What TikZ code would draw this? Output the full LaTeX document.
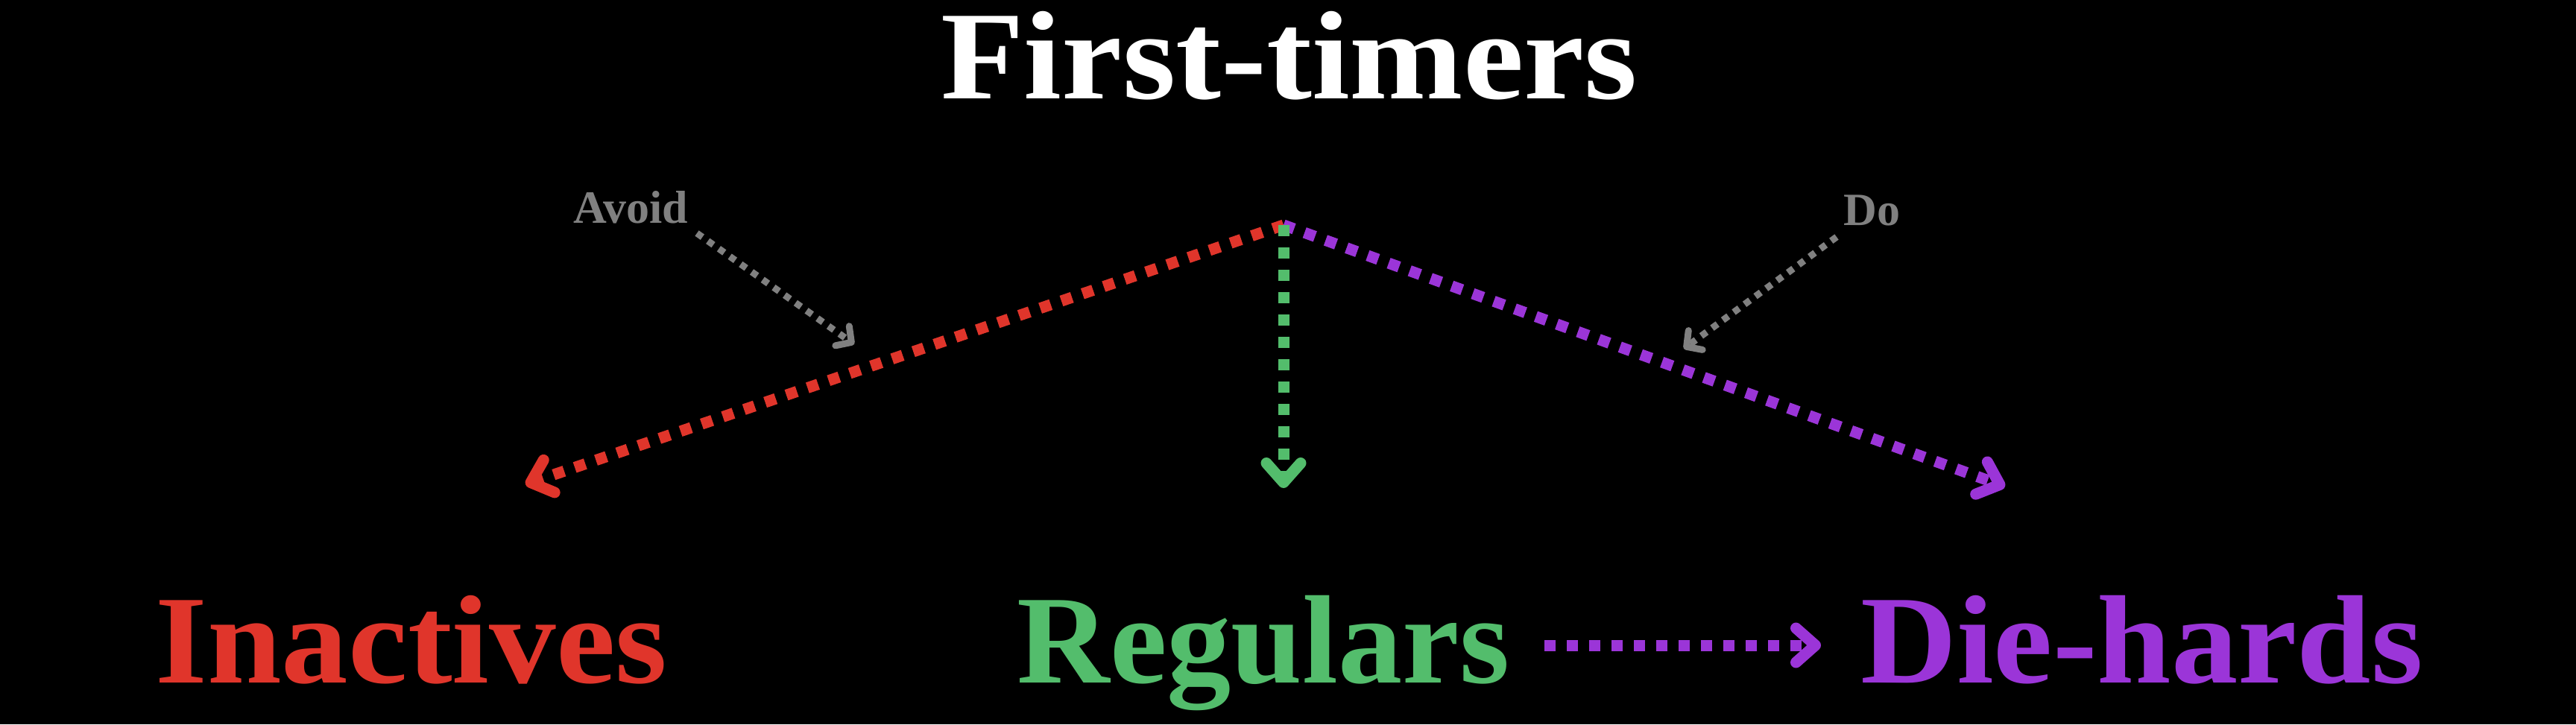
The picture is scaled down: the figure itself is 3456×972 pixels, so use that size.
\documentclass[tikz,border=0pt]{standalone}
\usepackage{fontspec}
\usepackage{graphicx}
\setmainfont{Liberation Serif}
\usetikzlibrary{arrows.meta}
\definecolor{cred}{HTML}{E0352B}
\definecolor{cgreen}{HTML}{53BD6C}
\definecolor{cpurple}{HTML}{9B35D8}
\definecolor{cgrey}{HTML}{808080}
\begin{document}
\begin{tikzpicture}[x=1pt,y=-1pt,
  big/.style={font=\fontsize{169}{200}\selectfont\bfseries, inner sep=0pt, anchor=base},
  small/.style={font=\fontsize{62}{70}\selectfont\bfseries, text=cgrey, inner sep=0pt, anchor=base},
  flow/.style={line width=15pt, dash pattern=on 15pt off 15pt, -{Straight Barb[length=26pt,width=46pt,round]}},
  hint/.style={cgrey, line width=9pt, dash pattern=on 9pt off 9pt, -{Straight Barb[length=15pt,width=32pt,round]}}]
\fill[black] (0,0) rectangle (3456,972);
\useasboundingbox (0,0) rectangle (3456,972);
% texts
\node[big, text=white] (ft) at (1729.5,132) {\scalebox{1.083}[1]{First-timers}};
\node[big, text=cred] (ina) at (552,916) {\scalebox{1.06}[1]{Inactives}};
\node[big, text=cgreen] (reg) at (1695,916) {\scalebox{1.02}[1]{Regulars}};
\node[big, text=cpurple] (die) at (2873.5,916) {\scalebox{1.058}[1]{Die-hards}};
\node[small] (av) at (846,299) {Avoid};
\node[small] (do) at (2511.5,302) {Do};
% connector ends
\coordinate (o) at (1722,302);
\coordinate (ie) at (705,650);
\coordinate (re) at (1722,655);
\coordinate (de) at (2690,653);
\coordinate (ra) at (2072,866);
\coordinate (rb) at (2443,866);
\coordinate (as) at (935,313);
\coordinate (ae) at (1146,462);
\coordinate (ds) at (2464,318);
\coordinate (dend) at (2259,468);
% connectors
\draw[flow, cred] (o) -- (ie);
\draw[flow, cpurple] (o) -- (de);
\draw[flow, cgreen] (o) -- (re);
\draw[flow, cpurple] (ra) -- (rb);
\draw[hint] (as) -- (ae);
\draw[hint] (ds) -- (dend);
\end{tikzpicture}
\end{document}
